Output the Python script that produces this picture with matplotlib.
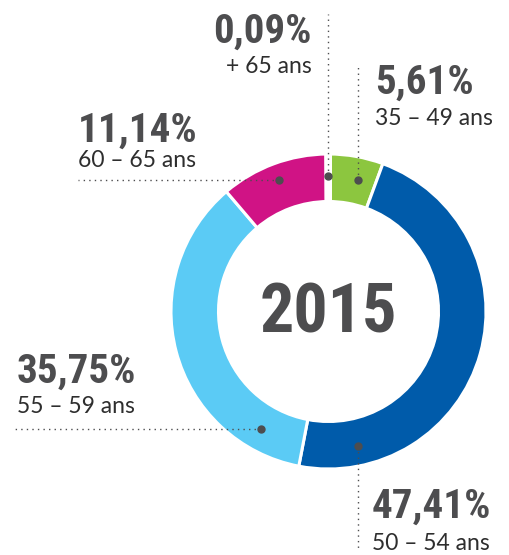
import matplotlib
matplotlib.use('Agg')
import matplotlib.pyplot as plt
import matplotlib.font_manager as fm

# tranches d'age, sens horaire depuis le haut
tranches = ['35 – 49 ans', '50 – 54 ans', '55 – 59 ans', '60 – 65 ans', '+ 65 ans']
parts = [5.61, 47.41, 35.75, 11.14, 0.09]
etiquettes = ['5,61%', '47,41%', '35,75%', '11,14%', '0,09%']
couleurs = ['#8CC63F', '#005BAA', '#5BCBF5', '#D01385', '#FFFFFF']
annee = '2015'

W, H = 509, 555
def Y(py):
    return H - py

names = {f.name for f in fm.fontManager.ttflist}
bold_font = next((n for n in ['Liberation Sans Narrow', 'Roboto Condensed', 'Open Sans Condensed', 'Lato']
                  if n in names), 'DejaVu Sans')
light_font = next((n for n in ['Lato', 'Open Sans', 'Roboto'] if n in names), 'DejaVu Sans')

gris = '#4D4D4F'
texte = '#2E2E2E'

fig = plt.figure(figsize=(W / 100, H / 100), dpi=100)
ax = fig.add_axes([0, 0, 1, 1])

cx, cy, R = 328.5, Y(311.5), 157.5
wedges, _ = ax.pie(parts, colors=couleurs, startangle=90, counterclock=False,
                   center=(cx, cy), radius=R,
                   wedgeprops=dict(width=47.5, edgecolor='white', linewidth=2.2))
wedges[-1].set_linewidth(5)

ax.set_xlim(0, W)
ax.set_ylim(0, H)
ax.set_aspect('equal')
ax.axis('off')

ax.text(cx, Y(314), annee, ha='center', va='center', fontsize=49, color=gris,
        family=bold_font, fontweight='bold')

# lignes pointillees + points: (points x, y en pixels)
lignes = [
    ([358, 358], [180, 65]),     # 35-49
    ([358, 358], [446, 548]),    # 50-54
    ([261, 15], [429, 429]),     # 55-59
    ([279, 78], [180, 180]),     # 60-65
    ([328, 328], [176, 14]),     # +65
]
for xs, ys in lignes:
    ax.plot(xs, [Y(v) for v in ys], color=gris, lw=1, ls=(0, (1, 3)))
    ax.plot(xs[0], Y(ys[0]), 'o', color=gris, ms=5)

# positions des etiquettes: x, ligne du pourcentage, ligne de l'age, alignement
pos = [
    (375, 94, 125, 'left'),
    (372, 518, 550, 'left'),
    (17, 383, 413, 'left'),
    (78, 142, 167, 'left'),
    (312, 43, 73, 'right'),
]
for (x, yb, ya, ha), pct, t in zip(pos, etiquettes, tranches):
    ax.text(x, Y(yb), pct, ha=ha, va='baseline', fontsize=29.5, color=gris,
            family=bold_font, fontweight='bold')
    ax.text(x, Y(ya), t, ha=ha, va='baseline', fontsize=16.5, color=texte,
            family=light_font, fontweight='normal')

fig.savefig('out.png', dpi=100)
